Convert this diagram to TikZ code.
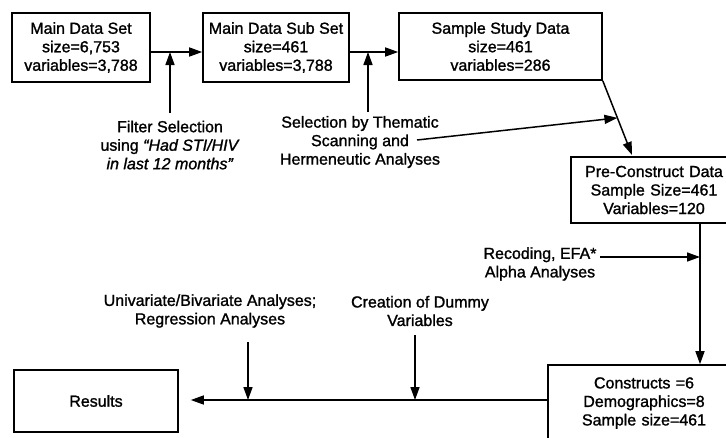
\documentclass[tikz,border=0pt]{standalone}
\usepackage{fontspec}
\setmainfont{Liberation Sans}[FakeBold=1.3]
\usetikzlibrary{arrows.meta,calc}
\begin{document}
\begin{tikzpicture}[x=1pt,y=-1pt,
  every node/.style={font=\fontsize{16}{18.5}\selectfont, align=center},
  databox/.style={draw, line width=1.6pt, inner sep=0pt},
  lbl/.style={inner sep=1pt},
  conn/.style={line width=1.5pt},
  arr/.style={conn, -{Triangle[length=13pt,width=9pt]}}]
\useasboundingbox (0,0) rectangle (726,437);
\clip (0,0) rectangle (726,437);
\node[databox, minimum width=138pt, minimum height=69pt] (b1) at (81,47.5) {Main Data Set\\size=6,753\\variables=3,788};
\node[databox, minimum width=146pt, minimum height=69pt] (b2) at (276,47.5) {Main Data Sub Set\\size=461\\variables=3,788};
\node[databox, minimum width=203pt, minimum height=67pt] (b3) at (500.5,46.5) {Sample Study Data\\size=461\\variables=286};
\node[databox, minimum width=166pt, minimum height=66pt, text width=166pt] (b4) at (654,190) {Pre-Construct Data\\Sample Size=461\\Variables=120};
\node[databox, minimum width=192pt, minimum height=76pt, text width=192pt] (b5) at (644,403) {Constructs =6\\Demographics=8\\Sample size=461};
\node[databox, minimum width=164pt, minimum height=62pt] (res) at (96,401) {Results};

\node[lbl] (f1) at (170,145) {Filter Selection\\using \textit{“Had STI/HIV}\\\textit{in last 12 months”}};
\node[lbl] (s1) at (360,142) {Selection by Thematic\\Scanning and\\Hermeneutic Analyses};
\node[lbl] (r1) at (540,264) {Recoding, EFA*\\Alpha Analyses};
\node[lbl] (u1) at (210,311) {Univariate/Bivariate Analyses;\\Regression Analyses};
\node[lbl] (c1) at (420,311) {Creation of Dummy\\Variables};

\coordinate (m1) at (170,52);
\coordinate (m2) at (368,52);
\coordinate (f1t) at (170,113);
\coordinate (s1t) at (368,112);
\coordinate (s1e) at (417,140);
\coordinate (d4) at (632,155);
\coordinate (r1e) at (600,257);
\coordinate (v1) at (700,257);
\coordinate (u1b) at (248,342);
\coordinate (c1b) at (415,335);
\coordinate (h1) at (248,400);
\coordinate (h2) at (415,400);

\draw[arr] ([yshift=-4.5pt]b1.east) -- ([yshift=-4.5pt]b2.west);
\draw[arr] (f1t) -- (m1);
\draw[arr] ([yshift=-4.5pt]b2.east) -- ([yshift=-5.5pt]b3.west);
\draw[arr] (s1t) -- (m2);
\draw[arr] (b3.south east) -- (d4);
\draw[arr] (s1e) -- ($(b3.south east)!0.5!(d4)$);
\draw[arr] ([xshift=46pt]b4.south) -- ([xshift=56pt]b5.north);
\draw[arr] (r1e) -- (v1);
\draw[arr, shorten >=12pt] ([yshift=3pt]b5.west) -- ([yshift=1pt]res.east);
\draw[arr] (u1b) -- (h1);
\draw[arr] (c1b) -- (h2);
\end{tikzpicture}
\end{document}
